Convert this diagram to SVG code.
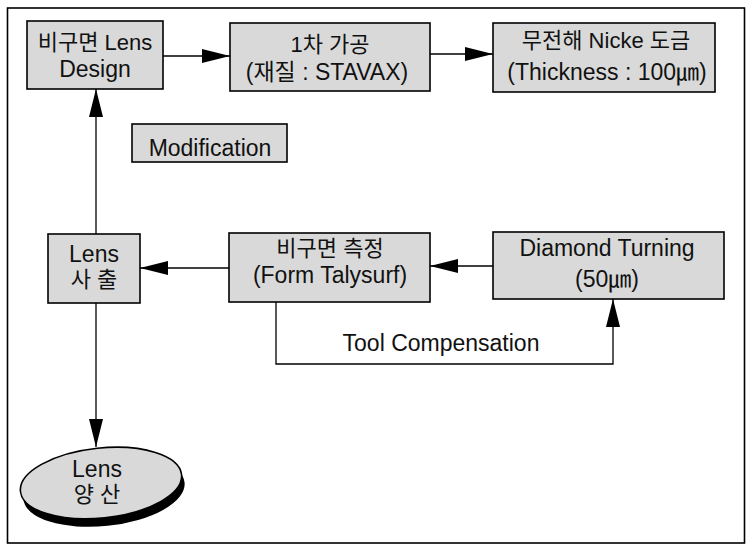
<svg xmlns="http://www.w3.org/2000/svg" width="748" height="546" viewBox="0 0 748 546">
<style>
.box{fill:#d9d9d9;stroke:#000;stroke-width:1.6}
.t{font-family:"Liberation Sans","Noto Sans CJK KR",sans-serif;font-size:23px;fill:#111;text-anchor:middle}
.k{font-size:22px}
.ln{fill:none;stroke:#000;stroke-width:1.3}
</style>
<defs>
<marker id="ah" markerUnits="userSpaceOnUse" markerWidth="28" markerHeight="14" refX="28" refY="7" orient="auto" viewBox="0 0 28 14">
<path d="M0,0 L28,7 L0,14 Z" fill="#000"/>
</marker>
</defs>
<rect x="7.5" y="8" width="737" height="535" fill="none" stroke="#000" stroke-width="1.6"/>
<g id="connectors">
<line class="ln" x1="163" y1="56" x2="230" y2="56" marker-end="url(#ah)"/>
<line class="ln" x1="430" y1="54" x2="493" y2="54" marker-end="url(#ah)"/>
<line class="ln" x1="96" y1="234" x2="96" y2="89" marker-end="url(#ah)"/>
<line class="ln" x1="493" y1="266" x2="430" y2="266" marker-end="url(#ah)"/>
<line class="ln" x1="229" y1="268" x2="140" y2="268" marker-end="url(#ah)"/>
<line class="ln" x1="96" y1="303" x2="96" y2="447" marker-end="url(#ah)"/>
<polyline class="ln" points="276,302 276,364 613,364 613,299" marker-end="url(#ah)"/>
<text class="t" x="441" y="351">Tool Compensation</text>
</g>
<g id="design">
<rect class="box" x="27" y="21" width="136" height="68"/>
<text class="t k" x="95" y="50">비구면 Lens</text>
<text class="t" x="95" y="77">Design</text>
</g>
<g id="machining">
<rect class="box" x="230" y="23" width="200" height="68"/>
<text class="t k" x="330" y="52">1차 가공</text>
<text class="t" x="327" y="80">(재질 : STAVAX)</text>
</g>
<g id="plating">
<rect class="box" x="493" y="23" width="222" height="69"/>
<text class="t k" x="606" y="48">무전해 Nicke 도금</text>
<text class="t" x="607" y="80">(Thickness : 100㎛)</text>
</g>
<g id="modification">
<rect class="box" x="132" y="124" width="155" height="38"/>
<text class="t" x="210" y="156">Modification</text>
</g>
<g id="injection">
<rect class="box" x="48" y="234" width="92" height="69"/>
<text class="t" x="94" y="262">Lens</text>
<text class="t k" x="94" y="287">사 출</text>
</g>
<g id="measure">
<rect class="box" x="229" y="233" width="201" height="69"/>
<text class="t k" x="330" y="256">비구면 측정</text>
<text class="t" x="330" y="283">(Form Talysurf)</text>
</g>
<g id="turning">
<rect class="box" x="493" y="232" width="231" height="67"/>
<text class="t" x="607" y="256">Diamond Turning</text>
<text class="t" x="607" y="287">(50㎛)</text>
</g>
<g id="production">
<ellipse cx="104" cy="491" rx="81" ry="35" fill="#000" transform="rotate(-6 104 491)"/>
<ellipse cx="101" cy="483" rx="81" ry="35" fill="#d9d9d9" stroke="#000" stroke-width="1.6" transform="rotate(-6 101 483)"/>
<text class="t" x="97" y="477">Lens</text>
<text class="t k" x="97" y="502">양 산</text>
</g>
</svg>
